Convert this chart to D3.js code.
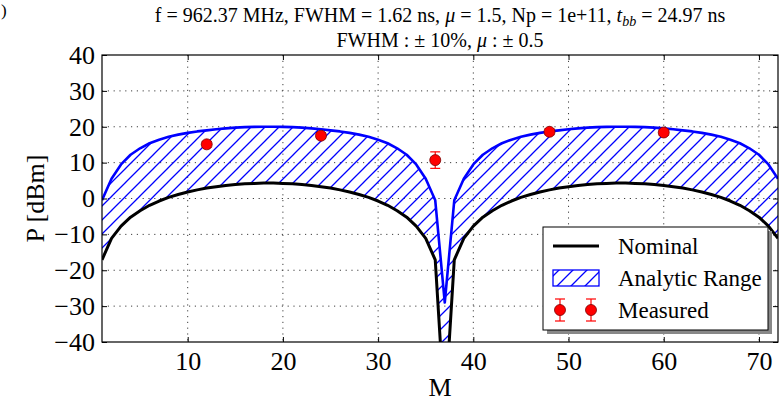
<!DOCTYPE html>
<html><head><meta charset="utf-8">
<script src="https://cdn.jsdelivr.net/npm/d3@7"></script>
<style>
html,body{margin:0;padding:0;background:#fff;}
svg{display:block;font-family:"Liberation Serif","Times New Roman",serif;}
</style></head>
<body><svg id="c" width="780" height="401"></svg>
<script>
// ---- data ----
const M = [1,2,3,4,5,6,7,8,9,10,11,12,13,14,15,16,17,18,19,20,21,22,23,24,25,26,27,28,29,30,31,32,33,34,35,36,
           37,38,39,40,41,42,43,44,45,46,47,48,49,50,51,52,53,54,55,56,57,58,59,60,61,62,63,64,65,66,67,68,69,70,71,72];
const nominal = [-17.1,-11.1,-7.7,-5.2,-3.4,-1.9,-0.7,0.3,1.1,1.8,2.4,2.9,3.3,3.65,3.9,4.1,4.2,4.3,
                 4.3,4.2,4.1,3.9,3.65,3.3,2.9,2.4,1.8,1.1,0.3,-0.7,-1.9,-3.4,-5.2,-7.7,-11.1,-17.1,
                 -60,
                 -17.1,-11.1,-7.7,-5.2,-3.4,-1.9,-0.7,0.3,1.1,1.8,2.4,2.9,3.3,3.65,3.9,4.1,4.2,4.3,
                 4.3,4.2,4.1,3.9,3.65,3.3,2.9,2.4,1.8,1.1,0.3,-0.7,-1.9,-3.4,-5.2,-7.7,-11.1];
const upper = [-0.5,5.5,9.5,12.2,14.0,15.4,16.4,17.2,17.8,18.3,18.7,19.0,19.3,19.55,19.75,19.9,19.97,20.0,
               20.0,19.97,19.9,19.75,19.55,19.3,19.0,18.7,18.3,17.8,17.2,16.4,15.4,14.0,12.2,9.5,5.5,-0.5,
               -29,
               -0.5,5.5,9.5,12.2,14.0,15.4,16.4,17.2,17.8,18.3,18.7,19.0,19.3,19.55,19.75,19.9,19.97,20.0,
               20.0,19.97,19.9,19.75,19.55,19.3,19.0,18.7,18.3,17.8,17.2,16.4,15.4,14.0,12.2,9.5,5.5];
const lower = nominal;
const measM = [12, 24, 36, 48, 60];
const measP = [15.1, 17.5, 10.7, 18.6, 18.4];
const measErr = [0.8, 0.8, 2.3, 0.8, 0.8];
const xTicks = [10,20,30,40,50,60,70];
const yTicks = [-40,-30,-20,-10,0,10,20,30,40];
const legendLabels = ["Nominal","Analytic Range","Measured"];

// ---- layout ----
const L=102, R=778, T=55, B=342;
const svg = d3.select("#c");
const x = d3.scaleLinear([1,72],[L,R]);
const y = d3.scaleLinear([-40,40],[B,T]);

const defs = svg.append("defs");
defs.append("clipPath").attr("id","clip").append("rect")
  .attr("x",L).attr("y",T).attr("width",R-L).attr("height",B-T);
const pat = defs.append("pattern").attr("id","hatch").attr("patternUnits","userSpaceOnUse")
  .attr("width",14).attr("height",14);
pat.append("path").attr("d","M-3.5,3.5L3.5,-3.5M0,14L14,0M10.5,17.5L17.5,10.5")
  .attr("stroke","#0000ff").attr("stroke-width",1.3).attr("fill","none");
const pat2 = defs.append("pattern").attr("id","hatchL").attr("patternUnits","userSpaceOnUse")
  .attr("width",14).attr("height",14).attr("x",3);
pat2.append("path").attr("d","M-3.5,3.5L3.5,-3.5M0,14L14,0M10.5,17.5L17.5,10.5")
  .attr("stroke","#0000ff").attr("stroke-width",1.3).attr("fill","none");

// grid
const grid = svg.append("g").attr("stroke","#000").attr("stroke-width",1)
  .attr("stroke-dasharray","1.2,4.6").attr("opacity",0.75);
grid.selectAll(".gx").data(xTicks).join("line")
  .attr("x1",d=>x(d)).attr("x2",d=>x(d)).attr("y1",T).attr("y2",B);
grid.selectAll(".gy").data(yTicks.slice(1,-1)).join("line")
  .attr("y1",d=>y(d)).attr("y2",d=>y(d)).attr("x1",L).attr("x2",R);

const data = M.map((m,i)=>({m, nom:nominal[i], up:upper[i], lo:lower[i]}));
const plot = svg.append("g").attr("clip-path","url(#clip)");

// analytic range
plot.append("path").datum(data)
  .attr("d", d3.area().x(d=>x(d.m)).y0(d=>y(d.lo)).y1(d=>y(d.up)))
  .attr("fill","url(#hatch)").attr("stroke","none");
plot.append("path").datum(data)
  .attr("d", d3.line().x(d=>x(d.m)).y(d=>y(d.up)))
  .attr("fill","none").attr("stroke","#0000ff").attr("stroke-width",2.6).attr("stroke-linejoin","round");
// nominal
plot.append("path").datum(data)
  .attr("d", d3.line().x(d=>x(d.m)).y(d=>y(d.nom)))
  .attr("fill","none").attr("stroke","#000").attr("stroke-width",3).attr("stroke-linejoin","round");

// measured
const meas = measM.map((m,i)=>({m, p:measP[i], e:measErr[i]}));
const mg = svg.append("g");
mg.selectAll(".eb").data(meas).join("line")
  .attr("x1",d=>x(d.m)).attr("x2",d=>x(d.m)).attr("y1",d=>y(d.p-d.e)).attr("y2",d=>y(d.p+d.e))
  .attr("stroke","#ff0000").attr("stroke-width",1.2);
mg.selectAll(".cap1").data(meas).join("line")
  .attr("x1",d=>x(d.m)-5).attr("x2",d=>x(d.m)+5).attr("y1",d=>y(d.p-d.e)).attr("y2",d=>y(d.p-d.e))
  .attr("stroke","#ff0000").attr("stroke-width",1.2);
mg.selectAll(".cap2").data(meas).join("line")
  .attr("x1",d=>x(d.m)-5).attr("x2",d=>x(d.m)+5).attr("y1",d=>y(d.p+d.e)).attr("y2",d=>y(d.p+d.e))
  .attr("stroke","#ff0000").attr("stroke-width",1.2);
mg.selectAll("circle").data(meas).join("circle")
  .attr("cx",d=>x(d.m)).attr("cy",d=>y(d.p)).attr("r",5.5)
  .attr("fill","#ff0000").attr("stroke","#7a0000").attr("stroke-width",0.8);

// axes
const fmt = d3.format("d");
const ax = svg.append("g").attr("transform",`translate(0,${B})`)
  .call(d3.axisBottom(x).tickValues(xTicks).tickSize(-5).tickPadding(10).tickFormat(fmt));
const ay = svg.append("g").attr("transform",`translate(${L},0)`)
  .call(d3.axisLeft(y).tickValues(yTicks).tickSize(-5).tickPadding(7).tickFormat(fmt));
const at = svg.append("g").attr("transform",`translate(0,${T})`)
  .call(d3.axisTop(x).tickValues(xTicks).tickSize(-5).tickFormat(""));
const ar = svg.append("g").attr("transform",`translate(${R},0)`)
  .call(d3.axisRight(y).tickValues(yTicks).tickSize(-5).tickFormat(""));
[ax,ay,at,ar].forEach(g=>{
  g.select(".domain").remove();
  g.selectAll("text").attr("font-family","Liberation Serif").attr("font-size",26).attr("fill","#000");
  g.selectAll(".tick line").attr("stroke","#000").attr("stroke-width",1);
});
svg.append("rect").attr("x",L).attr("y",T).attr("width",R-L).attr("height",B-T)
  .attr("fill","none").attr("stroke","#000").attr("stroke-width",1.2);

// axis labels
svg.append("text").attr("x",(L+R)/2).attr("y",396).attr("text-anchor","middle")
  .attr("font-size",26).text("M");
svg.append("text").attr("transform",`translate(44,${(T+B)/2}) rotate(-90)`).attr("text-anchor","middle")
  .attr("font-size",26).text("P [dBm]");

// title
const t1 = svg.append("text").attr("x",(L+R)/2).attr("y",22).attr("text-anchor","middle").attr("font-size",20);
t1.append("tspan").text("f = 962.37 MHz, FWHM = 1.62 ns, ");
t1.append("tspan").attr("font-style","italic").text("μ");
t1.append("tspan").text(" = 1.5, Np = 1e+11, ");
t1.append("tspan").attr("font-style","italic").text("t");
t1.append("tspan").attr("font-style","italic").attr("font-size",14).attr("dy",4).text("bb");
t1.append("tspan").attr("dy",-4).text(" = 24.97 ns");
const t2 = svg.append("text").attr("x",(L+R)/2).attr("y",47).attr("text-anchor","middle").attr("font-size",20);
t2.append("tspan").text("FWHM : ± 10%, ");
t2.append("tspan").attr("font-style","italic").text("μ");
t2.append("tspan").text(" : ± 0.5");

// panel label remnant at top-left corner
svg.append("text").attr("x",1).attr("y",16).attr("font-size",17).text(")");

// legend
const lg = svg.append("g");
const lx=543, ly=227, lw=225, lh=103;
lg.append("rect").attr("x",lx+4).attr("y",ly+4).attr("width",lw).attr("height",lh).attr("fill","#888");
lg.append("rect").attr("x",lx).attr("y",ly).attr("width",lw).attr("height",lh)
  .attr("fill","#fff").attr("stroke","#000").attr("stroke-width",1);
const rowY = [246, 278, 310];
lg.append("line").attr("x1",553).attr("x2",599).attr("y1",rowY[0]).attr("y2",rowY[0])
  .attr("stroke","#000").attr("stroke-width",3);
lg.append("rect").attr("x",553).attr("y",rowY[1]-8).attr("width",46).attr("height",16)
  .attr("fill","url(#hatchL)").attr("stroke","#0000ff").attr("stroke-width",1.3);
[560,591].forEach(cx=>{
  lg.append("line").attr("x1",cx).attr("x2",cx).attr("y1",rowY[2]-11).attr("y2",rowY[2]+11)
    .attr("stroke","#ff0000").attr("stroke-width",1.2);
  lg.append("line").attr("x1",cx-5).attr("x2",cx+5).attr("y1",rowY[2]-11).attr("y2",rowY[2]-11)
    .attr("stroke","#ff0000").attr("stroke-width",1.2);
  lg.append("line").attr("x1",cx-5).attr("x2",cx+5).attr("y1",rowY[2]+11).attr("y2",rowY[2]+11)
    .attr("stroke","#ff0000").attr("stroke-width",1.2);
  lg.append("circle").attr("cx",cx).attr("cy",rowY[2]).attr("r",5.5)
    .attr("fill","#ff0000").attr("stroke","#7a0000").attr("stroke-width",0.8);
});
lg.selectAll(".lt").data(legendLabels).join("text")
  .attr("x",618).attr("y",(d,i)=>rowY[i]).attr("dy","0.35em").attr("font-size",23).text(d=>d);
</script></body></html>
